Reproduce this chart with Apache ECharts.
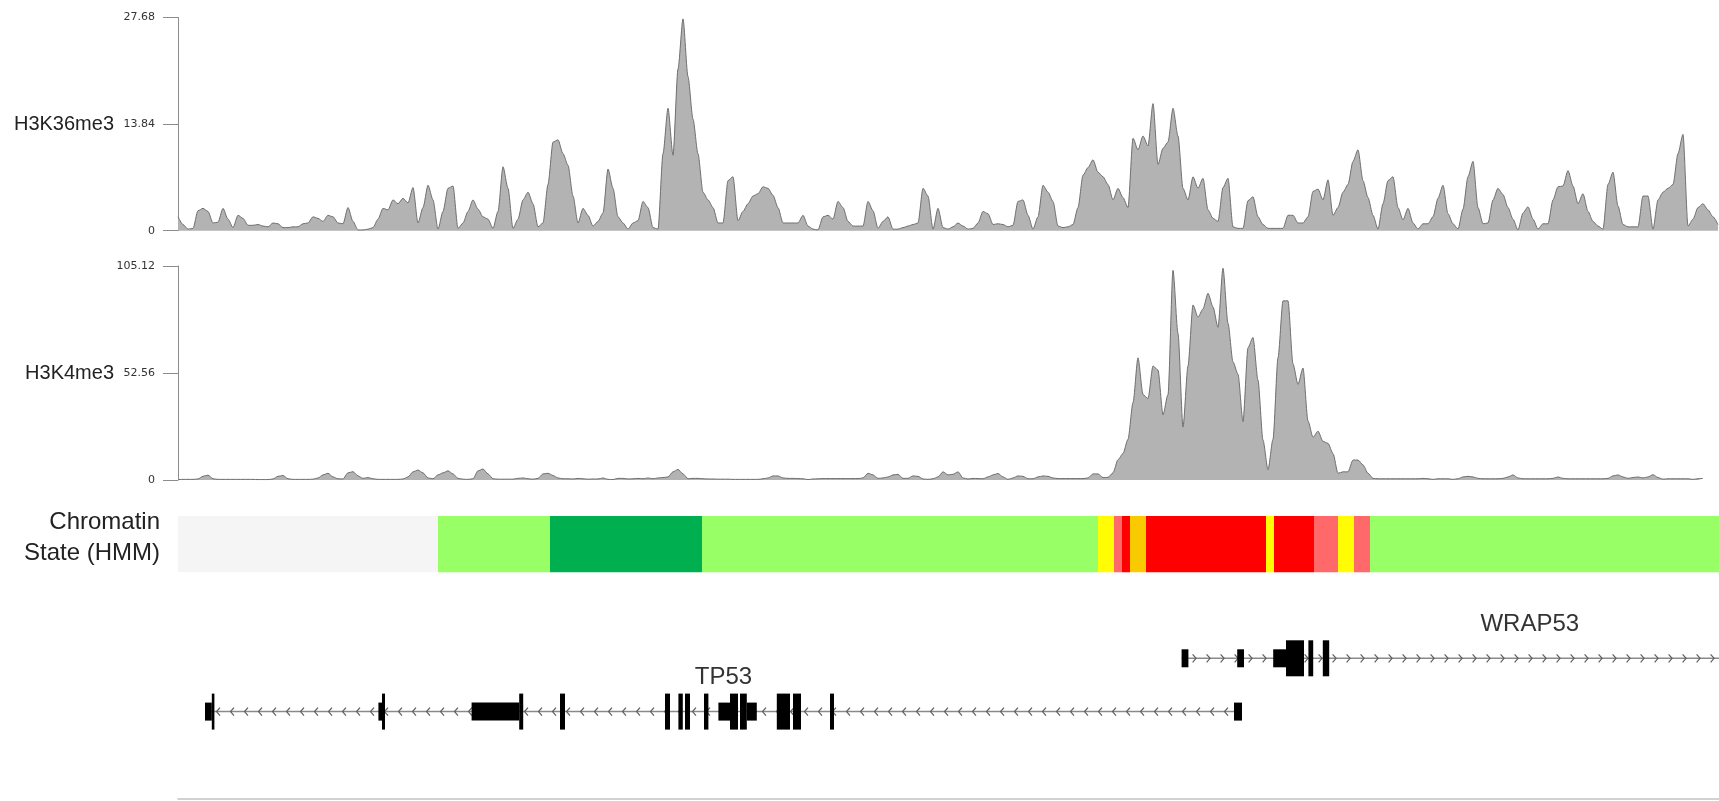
<!DOCTYPE html>
<html>
<head>
<meta charset="utf-8">
<script src="https://cdn.jsdelivr.net/npm/echarts@6/dist/echarts.min.js"></script>
<style>
  html, body { margin: 0; padding: 0; background: #ffffff; }
  #chart { width: 1719px; height: 801px; }
</style>
</head>
<body>
<div id="chart"></div>
<script>
// ---------------- DATA ----------------
// Genomic window (chr17, bp) and signal bin size
const REGION_START = 7564400;
const REGION_END = 7602925;
const BIN_BP = 125;

// Track names and y-axis maxima (tick labels: 0, max/2, max)
const trackNames = ['H3K36me3', 'H3K4me3'];
const trackMax = [27.68, 105.12];

// H3K36me3 signal per bin
const h3k36me3 = [
  1.8,0.8,0.2,0.3,2.6,2.9,2.5,1.0,1.1,2.9,
  1.5,0.4,2.0,1.6,0.7,0.7,0.8,0.6,0.5,1.0,
  0.9,0.4,0.4,0.5,0.5,0.9,1.0,1.8,1.6,1.2,
  2.0,1.8,1.0,0.9,3.0,1.2,0.1,0.1,0.2,0.4,
  1.5,2.9,2.7,4.0,3.5,4.2,3.6,5.6,1.0,3.0,
  5.9,4.0,0.2,2.5,5.5,5.8,0.3,1.0,2.5,4.0,
  2.8,1.8,1.5,0.3,2.5,8.3,5.5,0.3,1.5,4.0,
  5.0,3.5,0.5,1.0,6.0,11.5,11.8,10.0,8.5,4.5,
  1.0,2.9,2.0,0.6,1.2,
  2.3,8.0,5.5,1.8,1.0,0.2,1.0,1.3,3.8,3.0,
  0.4,0.2,10.0,15.9,9.8,21.0,27.5,20.0,14.5,10.0,
  5.0,4.0,3.0,1.0,1.0,6.5,7.0,1.3,2.5,3.5,
  4.5,4.8,5.7,5.5,4.6,3.0,1.0,1.0,1.0,1.0,
  2.0,0.6,0.2,0.1,1.8,2.0,1.5,3.8,3.0,1.2,
  0.6,0.6,0.6,3.8,2.6,0.3,1.2,1.8,0.2,0.2,
  0.4,0.6,0.8,1.0,5.5,4.5,0.2,2.9,0.4,0.2,
  0.5,1.0,0.6,0.2,0.3,1.0,2.5,2.2,0.8,0.9,
  0.8,0.5,0.7,3.8,4.0,2.0,0.2,1.8,5.9,5.0,
  3.8,0.6,0.4,0.5,0.8,3.0,7.2,8.2,9.2,7.6,
  7.0,6.0,4.0,5.5,4.3,3.0,12.0,10.5,12.3,11.0,
  16.5,8.6,10.7,11.5,15.9,12.3,5.5,4.0,7.0,5.5,
  6.8,2.7,1.6,1.2,5.6,6.8,0.5,0.3,0.3,3.9,
  4.4,1.8,0.8,0.3,0.3,0.3,0.3,2.0,2.0,1.0,
  1.0,1.8,5.1,5.4,4.0,6.6,2.0,3.0,5.0,6.0,
  9.0,10.5,6.5,4.3,2.0,0.2,3.5,6.5,7.0,3.0,
  1.4,2.9,1.0,0.2,0.9,0.9,1.8,4.2,5.9,2.2,
  0.9,0.2,2.8,7.0,9.0,3.0,0.9,1.0,4.0,5.5,
  4.7,3.0,1.5,0.1,2.3,3.1,1.5,0.2,0.9,0.9,
  4.0,5.7,5.8,7.8,5.8,3.5,4.8,2.5,1.2,0.6,
  0.2,6.0,7.6,3.2,0.8,0.5,0.5,0.5,4.5,4.5,
  0.2,4.0,5.0,5.5,6.0,10.0,12.5,0.6,1.5,3.0,
  3.5,2.7,1.8,0.8
];

// H3K4me3 signal per bin
const h3k4me3 = [
  0.2,0.3,0.3,0.3,0.5,1.8,2.4,0.6,0.3,0.3,
  0.3,0.3,0.3,0.3,0.3,0.3,0.2,0.2,0.2,0.5,
  1.8,2.2,0.6,0.3,0.3,0.3,0.3,0.4,1.0,2.5,
  3.3,1.5,0.6,0.5,3.5,4.1,2.0,0.8,1.2,0.6,
  0.3,0.3,0.3,0.3,0.3,0.5,1.5,4.0,4.9,3.5,
  1.0,0.6,2.5,3.5,4.5,3.0,0.8,0.4,0.3,0.6,
  4.5,5.4,3.0,0.6,0.4,0.4,0.4,0.4,0.8,1.0,
  0.6,0.4,0.8,3.0,3.3,2.2,1.0,0.6,0.6,0.5,
  0.8,0.6,0.4,0.5,0.5,
  1.0,0.3,0.2,0.8,0.8,0.5,0.6,0.8,0.6,1.0,
  0.6,1.0,1.2,1.5,4.0,5.2,3.0,0.6,0.8,0.8,
  0.6,0.5,0.5,0.4,0.4,0.4,0.3,0.3,0.3,0.3,
  0.3,0.3,0.6,1.0,2.0,2.0,1.0,0.8,0.8,0.7,
  0.6,0.2,0.5,0.6,0.7,0.7,0.7,0.7,0.7,0.7,
  0.7,0.7,1.0,3.3,2.5,0.8,1.0,1.5,2.5,2.8,
  0.8,0.8,2.0,1.8,0.5,0.3,0.6,1.5,4.0,2.5,
  2.8,4.0,1.0,0.5,0.8,0.7,0.6,1.5,2.5,3.2,
  1.5,0.3,1.0,2.0,1.8,0.6,0.6,1.5,2.0,1.8,
  1.0,0.7,0.7,0.7,0.7,0.7,0.7,1.0,3.0,3.0,
  1.2,1.3,3.5,10.0,13.0,20.0,38.0,60.0,42.0,40.0,
  56.0,54.0,32.0,42.0,103.0,72.0,26.0,56.0,86.0,80.0,
  84.0,91.7,85.0,75.0,104.0,77.0,58.0,52.0,28.7,65.0,
  70.0,49.0,19.6,5.0,20.0,60.0,88.0,88.0,57.0,47.0,
  55.0,29.0,21.0,24.0,19.0,18.0,13.0,3.3,4.0,4.0,
  9.8,9.8,7.4,3.3,0.8,0.6,0.6,0.6,0.6,0.6,
  0.6,0.6,0.6,0.6,0.8,0.6,0.3,0.6,0.6,0.6,
  0.3,0.6,1.5,1.8,1.5,0.8,0.6,0.6,0.6,0.6,
  0.8,1.5,2.5,1.0,0.6,0.6,0.6,0.6,0.6,0.6,
  0.8,1.5,0.8,0.6,0.6,0.6,0.6,0.6,0.6,0.6,
  0.6,0.8,2.0,2.5,1.5,0.8,1.2,1.5,1.0,1.5,
  2.6,1.2,0.4,0.6,0.6,0.6,0.6,0.6,0.3,0.6,0.8
];

// Chromatin state (HMM) segments
const chromStates = ['Heterochrom/lo', 'Weak Txn', 'Txn Elongation', 'Weak Enhancer', 'Weak Promoter', 'Active Promoter', 'Strong Enhancer'];
const segStarts = [7564400, 7570900, 7573700, 7577500, 7587400, 7587800, 7588000, 7588200, 7588600, 7591600, 7591800, 7592800, 7593400, 7593800, 7594200];
const segEnds   = [7570900, 7573700, 7577500, 7587400, 7587800, 7588000, 7588200, 7588600, 7591600, 7591800, 7592800, 7593400, 7593800, 7594200, 7602925];
const segStates = [0, 1, 2, 1, 3, 4, 5, 6, 5, 3, 5, 4, 3, 4, 1];

// Genes
const geneNames = ['WRAP53', 'TP53'];
const geneStrands = ['+', '-'];
const geneStarts = [7589490, 7565075];
const geneEnds = [7606900, 7591000];
const geneRows = [1, 2];
const wrap53Exons = [
  [7589490, 7589660, 'utr'], [7590880, 7591050, 'utr'], [7591780, 7592100, 'utr'],
  [7592100, 7592550, 'cds'], [7592660, 7592780, 'cds'], [7593020, 7593180, 'cds']
];
const tp53Exons = [
  [7565075, 7565245, 'utr'], [7565245, 7565310, 'cds'],
  [7569410, 7569500, 'utr'], [7569500, 7569575, 'cds'],
  [7571740, 7572930, 'utr'], [7572930, 7573030, 'cds'],
  [7573950, 7574075, 'cds'], [7576575, 7576700, 'cds'],
  [7576910, 7577020, 'cds'], [7577075, 7577200, 'cds'],
  [7577550, 7577660, 'cds'], [7577910, 7578200, 'utr'],
  [7578200, 7578400, 'cds'], [7578450, 7578620, 'cds'],
  [7578620, 7578870, 'utr'], [7579370, 7579700, 'cds'],
  [7579775, 7579975, 'cds'], [7580700, 7580800, 'cds'],
  [7590800, 7591000, 'utr']
];
const geneExons = [wrap53Exons, tp53Exons];

// ---------------- STYLE ----------------
const stateColors = ['#f5f5f5', '#99ff66', '#00b050', '#fffc04', '#ff6969', '#ff0000', '#faca00'];
const LABEL_FONT = '"Liberation Sans", Arial, Helvetica, sans-serif';
const TICK_FONT = '"DejaVu Sans", Verdana, sans-serif';

const chart = echarts.init(document.getElementById('chart'), null, { renderer: 'canvas' });

function binData(arr) {
  return arr.map((v, i) => [REGION_START + BIN_BP * i, v]);
}

const xBase = {
  type: 'value', min: REGION_START, max: REGION_END, show: false
};

function signalYAxis(gi, max) {
  return {
    type: 'value', gridIndex: gi, min: 0, max: max, interval: max / 2,
    axisLine: { show: true, lineStyle: { color: '#8c8c8c', width: 1 } },
    axisTick: { show: true, length: 15, lineStyle: { color: '#8c8c8c', width: 1 } },
    axisLabel: {
      show: true, margin: 23, fontSize: 11, fontFamily: TICK_FONT, color: '#333',
      formatter: v => (v === 0 ? '0' : v.toFixed(2))
    },
    splitLine: { show: false }
  };
}

const areaSeries = (name, arr, idx) => ({
  name: name, type: 'line', xAxisIndex: idx, yAxisIndex: idx,
  data: binData(arr), symbol: 'none', smooth: 0.25, smoothMonotone: 'x',
  lineStyle: { color: '#6f6f6f', width: 1 },
  areaStyle: { color: '#b3b3b3', opacity: 1 },
  silent: true
});

const chromData = segStarts.map((s, i) => [s, segEnds[i], segStates[i]]);

const geneData = geneNames.map((n, i) => [geneStarts[i], geneEnds[i], geneRows[i], i]);

function renderGene(params, api) {
  const gi = api.value(3);
  const row = api.value(2);
  const cs = params.coordSys;
  const p0 = api.coord([api.value(0), row]);
  const p1 = api.coord([api.value(1), row]);
  const y = p0[1];
  const left = Math.max(p0[0], cs.x);
  const right = Math.min(p1[0], cs.x + cs.width);
  const children = [];
  children.push({
    type: 'line', shape: { x1: left, y1: y, x2: right, y2: y },
    style: { stroke: '#8a8a8a', lineWidth: 1.5 }
  });
  const dir = geneStrands[gi] === '+' ? 1 : -1;
  for (let cx = left + 13; cx < right - 4; cx += 14) {
    children.push({
      type: 'polyline',
      shape: { points: [[cx - 2 * dir, y - 4], [cx + 1.5 * dir, y], [cx - 2 * dir, y + 4]] },
      style: { stroke: '#5e5e5e', lineWidth: 1.2, fill: null }
    });
  }
  geneExons[gi].forEach(ex => {
    const a = api.coord([ex[0], row])[0];
    const b = api.coord([ex[1], row])[0];
    const h = ex[2] === 'cds' ? 36 : 18;
    const xa = Math.max(a, cs.x), xb = Math.min(b, cs.x + cs.width);
    if (xb > xa) {
      children.push({
        type: 'rect', shape: { x: xa, y: y - h / 2, width: Math.max(xb - xa, 1.5), height: h },
        style: { fill: '#000000' }
      });
    }
  });
  children.push({
    type: 'text',
    style: {
      text: geneNames[gi], x: (p0[0] + p1[0]) / 2, y: y - 34,
      align: 'center', verticalAlign: 'middle',
      fontSize: 24, fontFamily: LABEL_FONT, fill: '#333333'
    }
  });
  return { type: 'group', children: children };
}

function renderChrom(params, api) {
  const a = api.coord([api.value(0), 1]);
  const b = api.coord([api.value(1), 0]);
  return {
    type: 'rect',
    shape: { x: a[0], y: a[1], width: b[0] - a[0], height: b[1] - a[1] },
    style: { fill: stateColors[api.value(2)] }
  };
}

const option = {
  animation: false,
  backgroundColor: '#ffffff',
  grid: [
    { left: 178, right: 0, top: 17.5, height: 213.2 },
    { left: 178, right: 0, top: 266, height: 214 },
    { left: 178, right: 0, top: 516, height: 56.5 },
    { left: 178, right: 0, top: 605, height: 194 }
  ],
  xAxis: [
    Object.assign({ gridIndex: 0 }, xBase),
    Object.assign({ gridIndex: 1 }, xBase),
    Object.assign({ gridIndex: 2 }, xBase),
    {
      type: 'value', gridIndex: 3, min: REGION_START, max: REGION_END,
      axisLine: { show: true, onZero: false, lineStyle: { color: '#c4c4c4', width: 1.5 } },
      axisTick: { show: false }, axisLabel: { show: false }, splitLine: { show: false }
    }
  ],
  yAxis: [
    signalYAxis(0, trackMax[0]),
    signalYAxis(1, trackMax[1]),
    { type: 'value', gridIndex: 2, min: 0, max: 1, show: false },
    { type: 'value', gridIndex: 3, min: 0, max: 3.64, inverse: true, show: false }
  ],
  graphic: [
    {
      type: 'text', x: 114, y: 124,
      style: { text: trackNames[0], align: 'right', verticalAlign: 'middle', fontSize: 20, fontFamily: LABEL_FONT, fill: '#222' }
    },
    {
      type: 'text', x: 114, y: 373,
      style: { text: trackNames[1], align: 'right', verticalAlign: 'middle', fontSize: 20, fontFamily: LABEL_FONT, fill: '#222' }
    },
    {
      type: 'text', x: 160, y: 538,
      style: { text: 'Chromatin\nState (HMM)', align: 'right', verticalAlign: 'middle', lineHeight: 31, fontSize: 24, fontFamily: LABEL_FONT, fill: '#222' }
    }
  ],
  series: [
    areaSeries(trackNames[0], h3k36me3, 0),
    areaSeries(trackNames[1], h3k4me3, 1),
    {
      name: 'Chromatin State', type: 'custom', xAxisIndex: 2, yAxisIndex: 2,
      renderItem: renderChrom, data: chromData, clip: true, silent: true
    },
    {
      name: 'Genes', type: 'custom', xAxisIndex: 3, yAxisIndex: 3,
      renderItem: renderGene, data: geneData, clip: false, silent: true
    }
  ]
};

chart.setOption(option);
</script>
</body>
</html>
